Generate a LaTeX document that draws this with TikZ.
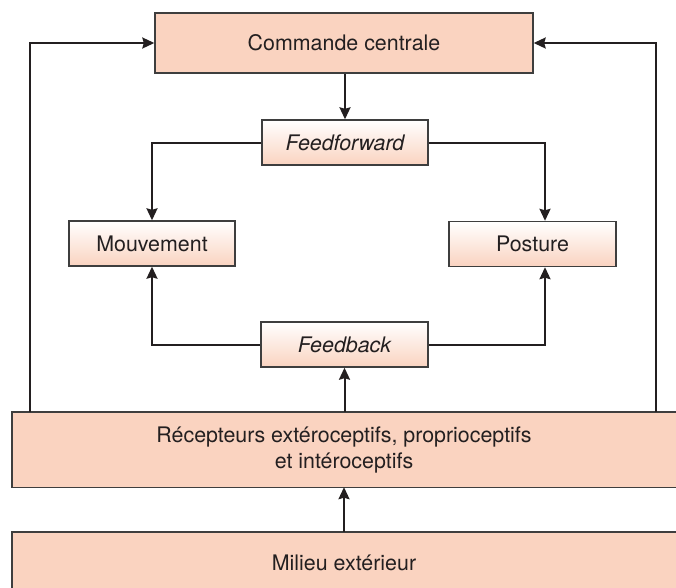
\documentclass[tikz,border=0pt]{standalone}
\usepackage{fontspec}
\setmainfont{TeX Gyre Heros}
\usepackage{tikz}
\usetikzlibrary{arrows.meta,positioning}

\definecolor{saumon}{RGB}{250,211,192}
\definecolor{bordure}{RGB}{62,62,62}
\definecolor{encre}{RGB}{35,31,32}

\begin{document}
\begin{tikzpicture}[x=1pt,y=-1pt,font=\fontsize{21.4}{26}\selectfont,text=encre,
  plein/.style={draw=bordure,line width=1.4pt,fill=saumon,inner sep=0pt},
  degrade/.style={draw=bordure,line width=1.4pt,top color=white,bottom color=saumon,
    inner sep=0pt,minimum width=166,minimum height=45},
  large/.style={fill=saumon,inner sep=0pt,minimum width=664},
  bord/.style={draw=bordure,line width=1.4pt},
  fleche/.style={line width=2pt,draw=encre,-{Stealth[length=12pt,width=11pt,inset=1.5pt]}}]

% Frame of the page
\useasboundingbox (0,0) rectangle (676,587);
\clip (0,0) rectangle (676,587);

% Define coordinates
\coordinate (gauche) at (30,0);    %left loop
\coordinate (droite) at (656,0);   %right loop
\coordinate (branche) at (545,0);  %branch to Posture

% Central command and the two middle blocks
\node[plein,minimum width=378,minimum height=60] (commande) at (344,43) {Commande centrale};
\node[degrade] (feedforward) at (345,142.5) {\itshape Feedforward};
\node[degrade] (mouvement) at (152,243.5) {Mouvement};
\node[degrade,minimum width=167] (posture) at (532.5,244) {Posture};
\node[degrade,minimum width=167] (feedback) at (344.5,344.5) {\itshape Feedback};

% Wide blocks, running off the page
\node[large,minimum height=75,align=center] (recepteurs) at (344,449.5)
  {Récepteurs extéroceptifs, proprioceptifs\\et intéroceptifs};
\node[large,minimum height=62] (milieu) at (344,563) {Milieu extérieur};
\draw[bord] (recepteurs.north east) -- (recepteurs.north west) -- (recepteurs.south west) -- (recepteurs.south east);
\draw[bord] (milieu.north east) -- (milieu.north west) -- (milieu.south west);

% Feedforward branch
\draw[fleche] (feedforward.north |- commande.south) -- (feedforward.north);
\draw[fleche] (feedforward.west) -| (mouvement.north);
\draw[fleche] (feedforward.east) -| (branche |- posture.north);

% Feedback branch
\draw[fleche] (feedback.west) -| (mouvement.south);
\draw[fleche] (feedback.east) -| (branche |- posture.south);
\draw[fleche] (feedback.south |- recepteurs.north) -- (feedback.south);
\draw[fleche] (milieu.north) -- (recepteurs.south);

% Outer loops to the central command
\draw[fleche] (gauche |- recepteurs.north) |- (commande.west);
\draw[fleche] (droite |- recepteurs.north) |- (commande.east);

\end{tikzpicture}
\end{document}
